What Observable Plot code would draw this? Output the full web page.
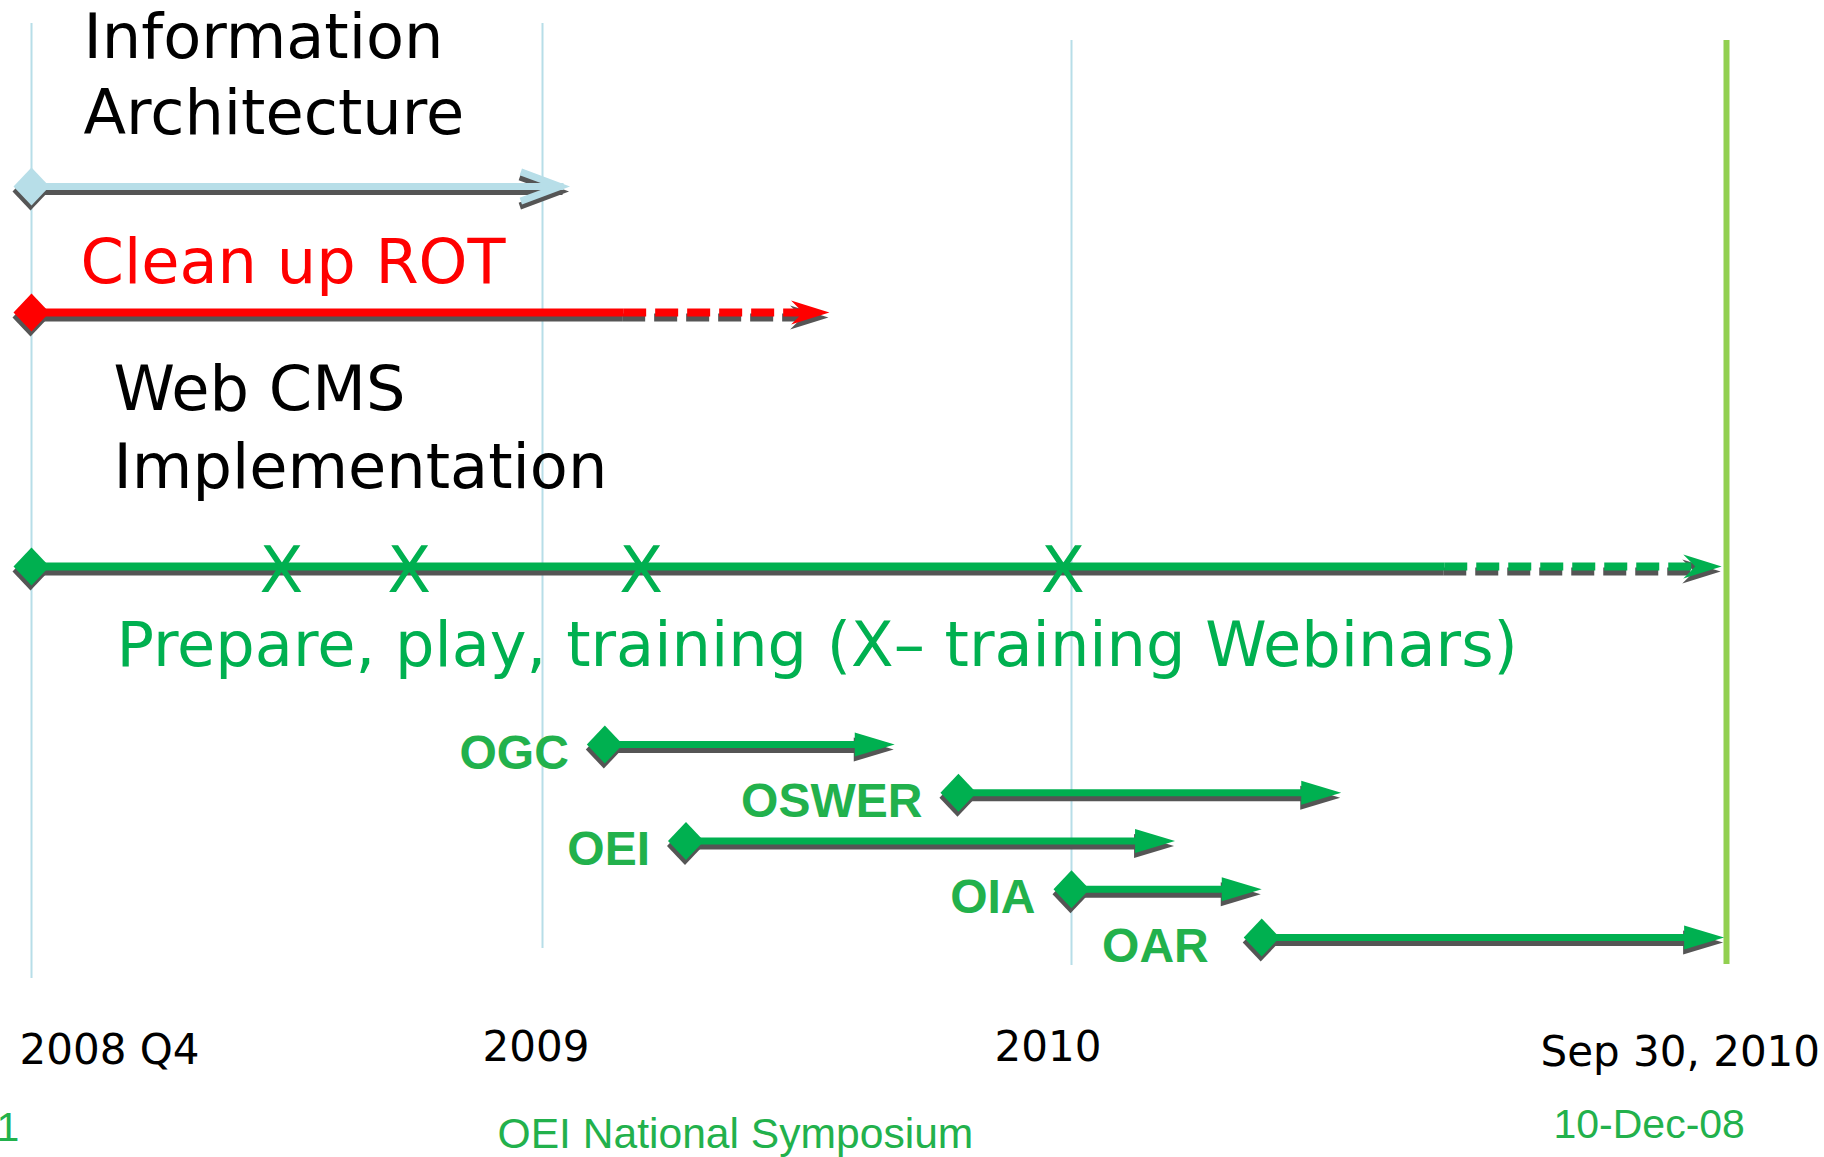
<!DOCTYPE html>
<html>
<head>
<meta charset="utf-8">
<script src="https://cdn.jsdelivr.net/npm/d3@7"></script>
<script src="https://cdn.jsdelivr.net/npm/@observablehq/plot@0.6"></script>
<style>
  html, body { margin: 0; padding: 0; background: #ffffff; }
  #chart svg { display: block; }
</style>
</head>
<body>
<div id="chart"></div>
<script>
// ---------------- DATA ----------------
// Axis ticks of the (hand-drawn, non-uniform) timeline
const tickDates  = ["2008-10-01", "2009-01-01", "2010-01-01", "2010-09-30"];
const tickLabels = ["2008 Q4", "2009", "2010", "Sep 30, 2010"];
const deadlineDate = "2010-09-30";

// Main work streams
const trackLabels   = ["Information\nArchitecture", "Clean up ROT", "Web CMS\nImplementation"];
const trackStart    = ["2008-10-01", "2008-10-01", "2008-10-01"];
const trackSolidEnd = ["2009-01-20", "2009-02-26", "2010-06-05"]; // firm part
const trackEnd      = ["2009-01-20", "2009-07-18", "2010-09-28"]; // projected (dashed) end

// Training webinars (X marks on the Web CMS stream)
const webinarDates = ["2008-11-15", "2008-12-08", "2009-03-10", "2009-12-26"];
const webinarCaption = "Prepare, play, training (X\u2013 training Webinars)";

// Office roll-outs
const offices     = ["OGC", "OSWER", "OEI", "OIA", "OAR"];
const officeStart = ["2009-02-13", "2009-10-15", "2009-04-10", "2010-01-01", "2010-03-21"];
const officeEnd   = ["2009-09-01", "2010-04-23", "2010-02-13", "2010-03-21", "2010-09-29"];

// Slide footer
const footerLeft = "1";
const footerCenter = "OEI National Symposium";
const footerRight = "10-Dec-08";

// ---------------- BUILD ----------------
const parse = d3.utcParse("%Y-%m-%d");

const tracks = trackLabels.map((label, i) => ({
  label, lane: i,
  start: parse(trackStart[i]), solidEnd: parse(trackSolidEnd[i]), end: parse(trackEnd[i])
}));
const officeRows = offices.map((label, i) => ({
  label, lane: trackLabels.length + i,
  start: parse(officeStart[i]), solidEnd: parse(officeEnd[i]), end: parse(officeEnd[i])
}));

// Colours / styles
const C = {
  grid: "#B7DEE8", deadline: "#92D050", shadow: "#555555",
  ia: "#B7DEE8", rot: "#FF0000", green: "#00B050", office: "#22B14C", text: "#000000"
};
const SHADOW = {dx: -1, dy: 5};
const MAIN_FONT = "'DejaVu Sans', Verdana, sans-serif";
const ARIAL = "'Liberation Sans', Arial, sans-serif";
const MAIN_SIZE = 62.2;

// Custom glyphs (sizes derived from r)
const rad = size => Math.sqrt(size / Math.PI);
const diamondSym = {draw(ctx, size) { const r = rad(size), h = r * 1.06;
  ctx.moveTo(0, -h); ctx.lineTo(r, 0); ctx.lineTo(0, h); ctx.lineTo(-r, 0); ctx.closePath(); }};
const triangleSym = {draw(ctx, size) { const r = rad(size);
  ctx.moveTo(0, 0); ctx.lineTo(-3.33 * r, -r); ctx.lineTo(-3.33 * r, r); ctx.closePath(); }};
const stealthSym = {draw(ctx, size) { const r = rad(size);
  ctx.moveTo(0, 0); ctx.lineTo(-3.2 * r, -r); ctx.lineTo(-2.2 * r, 0); ctx.lineTo(-3.2 * r, r); ctx.closePath(); }};
const chevronSym = {draw(ctx, size) { const r = rad(size);
  ctx.moveTo(0, 0); ctx.lineTo(-2.67 * r, -r); ctx.lineTo(-2.8 * r, -0.63 * r);
  ctx.lineTo(-1.1 * r, 0); ctx.lineTo(-2.8 * r, 0.63 * r); ctx.lineTo(-2.67 * r, r); ctx.closePath(); }};

function arrowMarks(row, st) {
  const solidOnly = +row.solidEnd === +row.end;
  const out = [];
  for (const isShadow of [true, false]) {
    const c = isShadow ? C.shadow : st.color;
    const o = isShadow ? SHADOW : {dx: 0, dy: 0};
    out.push(Plot.ruleY([row], {y: "lane", x1: "start", x2: "solidEnd", stroke: c,
      strokeWidth: st.width, insetRight: solidOnly ? st.inset : 0, ...o}));
    if (!solidOnly) out.push(Plot.ruleY([row], {y: "lane", x1: "solidEnd", x2: "end", stroke: c,
      strokeWidth: st.width, strokeDasharray: "23,9", insetRight: st.inset, ...o}));
    out.push(Plot.dot([row], {x: "start", y: "lane", symbol: diamondSym, r: 18, fill: c, ...o}));
    out.push(Plot.dot([row], {x: "end", y: "lane", symbol: st.head, r: st.headR, fill: c, ...o}));
  }
  return out;
}

const trackStyles = [
  {color: C.ia, width: 7, head: chevronSym, headR: 18, inset: 6},
  {color: C.rot, width: 8, head: stealthSym, headR: 12, inset: 20},
  {color: C.green, width: 8, head: stealthSym, headR: 12, inset: 20}
];
const officeStyle = {color: C.green, width: 7, head: triangleSym, headR: 12, inset: 36};

// label placement (style only)
const trackLabelStyle = [
  {fill: C.text, dx: 52, dy: -53, lineHeight: 1.21},
  {fill: C.rot, dx: 49, dy: -30, lineHeight: 1.21},
  {fill: C.text, dx: 82, dy: -79, lineHeight: 1.24}
];
const tickLabelShift = [{dx: -12, dy: -94}, {dx: -60, dy: -97}, {dx: -77, dy: -97}, {dx: -186, dy: -92}];
const officeLabelShift = {OAR: -53};

const marks = [];

// vertical guides
const gridInsets = [[23, 179], [23, 209], [40, 192]];
tickDates.slice(0, 3).forEach((d, i) => marks.push(
  Plot.ruleX([parse(d)], {x: d => d, stroke: C.grid, strokeWidth: 2,
    insetTop: gridInsets[i][0], insetBottom: gridInsets[i][1]})));
marks.push(Plot.ruleX([parse(deadlineDate)], {x: d => d, stroke: C.deadline, strokeWidth: 6,
  insetTop: 40, insetBottom: 193}));

// main streams
tracks.forEach((t, i) => marks.push(...arrowMarks(t, trackStyles[i])));

// webinar X marks
const cmsLane = tracks[2].lane;
marks.push(Plot.text(webinarDates, {x: d => parse(d), y: () => cmsLane, text: () => "X",
  fill: C.green, fontSize: 64, fontFamily: MAIN_FONT, dy: 5}));

// stream labels
tracks.forEach((t, i) => marks.push(Plot.text([t], {x: "start", y: "lane", text: "label",
  textAnchor: "start", lineAnchor: "bottom", fontSize: MAIN_SIZE, fontFamily: MAIN_FONT,
  ...trackLabelStyle[i]})));
marks.push(Plot.text([tracks[2]], {x: "start", y: "lane", text: () => webinarCaption,
  textAnchor: "start", lineAnchor: "bottom", fontSize: MAIN_SIZE, fontFamily: MAIN_FONT,
  fill: C.green, dx: 85, dy: 99}));

// office roll-outs
officeRows.forEach(r => marks.push(...arrowMarks(r, officeStyle)));
officeRows.forEach(r => marks.push(Plot.text([r], {x: "start", y: "lane", text: "label",
  textAnchor: "end", lineAnchor: "bottom", fontSize: 48, fontWeight: "bold", fontFamily: ARIAL,
  fill: C.office, dx: officeLabelShift[r.label] ?? -36, dy: 24})));

// axis tick labels
tickLabels.forEach((lab, i) => marks.push(Plot.text([lab], {x: () => parse(tickDates[i]), text: d => d,
  frameAnchor: "bottom", textAnchor: "start", lineAnchor: "bottom",
  fontSize: 42, fontFamily: MAIN_FONT, fill: C.text, ...tickLabelShift[i]})));

// footer
marks.push(Plot.text([footerLeft], {text: d => d, frameAnchor: "bottom-left", textAnchor: "start",
  lineAnchor: "bottom", dx: -4, dy: -17, fontSize: 41, fontFamily: ARIAL, fill: C.office}));
marks.push(Plot.text([footerCenter], {text: d => d, frameAnchor: "bottom-left", textAnchor: "start",
  lineAnchor: "bottom", dx: 497, dy: -10, fontSize: 42.6, fontFamily: ARIAL, fill: C.office}));
marks.push(Plot.text([footerRight], {text: d => d, frameAnchor: "bottom-left", textAnchor: "start",
  lineAnchor: "bottom", dx: 1553, dy: -20, fontSize: 41, fontFamily: ARIAL, fill: C.office}));

const chart = Plot.plot({
  width: 1824, height: 1157,
  marginTop: 0, marginRight: 0, marginBottom: 0, marginLeft: 0,
  style: {background: "#ffffff", overflow: "visible"},
  x: {type: "utc", domain: tickDates.map(parse), range: [31, 542, 1071, 1726], axis: null},
  y: {type: "linear", domain: [0, 1, 2, 3, 7], range: [186, 312, 566, 744, 937], axis: null},
  marks
});
document.getElementById("chart").appendChild(chart);
</script>
</body>
</html>
